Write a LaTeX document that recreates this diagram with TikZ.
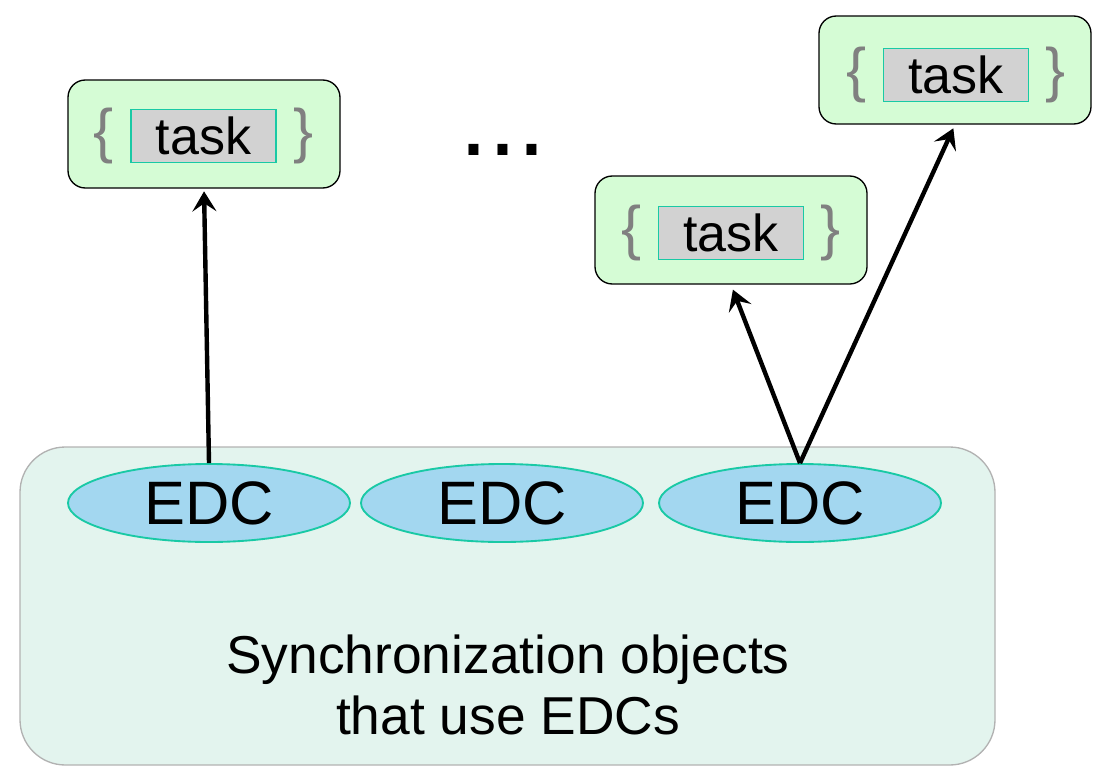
\documentclass[tikz,border=0pt]{standalone}
\usepackage{fontspec}
\setmainfont{Liberation Sans}
\usetikzlibrary{shapes,positioning,arrows.meta}
\definecolor{taskgreen}{HTML}{D5FCD5}
\definecolor{syncbg}{HTML}{E3F4EE}
\definecolor{edcblue}{HTML}{A3D7F0}
\definecolor{teal2}{HTML}{19C9A5}
\definecolor{bracegray}{HTML}{808080}

\begin{document}
\begin{tikzpicture}[x=0.75pt,y=-0.75pt,
		taskbox/.style={draw=black, line width=1pt, fill=taskgreen, rounded corners=13pt, minimum width=204pt, minimum height=81pt},
		taskname/.style={draw=teal2, line width=1.4pt, fill=gray!35, minimum width=108.75pt, minimum height=39.75pt, inner sep=0pt, font=\fontsize{39}{44}\selectfont},
		brace/.style={text=bracegray, inner sep=0pt, node distance=12pt, font=\fontsize{45}{48}\selectfont},
		edc/.style={draw=teal2, line width=1.4pt, fill=edcblue, ellipse, minimum width=211.5pt, minimum height=58.5pt, inner sep=0pt, font=\fontsize{46}{50}\selectfont},
		link/.style={->, line width=3.3pt},
		>={Stealth[length=15pt,width=18pt,inset=6pt]}]
	\useasboundingbox (0,0) rectangle (1096,771);

	% synchronization objects
	\node[draw=gray!60, line width=1pt, fill=syncbg, rounded corners=34pt, minimum width=731.25pt, minimum height=238.5pt] (sync) at (507.5,606) {};
	\node[align=center, font=\fontsize{40}{46}\selectfont] (synctext) at (508,685) {Synchronization objects\\that use EDCs};

	\node[edc] (e1) at (209,503) {EDC};
	\node[edc] (e2) at (502,503) {EDC};
	\node[edc] (e3) at (800,503) {EDC};

	% tasks
	\node[taskbox] (t1) at (204,134) {};
	\node[taskname] (n1) at (203.5,136) {task};
	\node[brace, left= of n1] (l1) {\{};
	\node[brace, right= of n1] (r1) {\}};

	\node[taskbox] (t2) at (731,230) {};
	\node[taskname] (n2) at (731,233) {task};
	\node[brace, left= of n2] (l2) {\{};
	\node[brace, right= of n2] (r2) {\}};

	\node[taskbox] (t3) at (955,70) {};
	\node[taskname] (n3) at (956,75) {task};
	\node[brace, left= of n3] (l3) {\{};
	\node[brace, right= of n3] (r3) {\}};

	\node[anchor=base, font=\fontsize{78}{80}\selectfont] (dots) at (503,155) {...};

	\draw[link, shorten >=2pt] (e1.north) -- (t1.south);
	\draw[link, shorten >=4pt] (e3.north) -- (t2.south);
	\draw[link, shorten >=3pt] (e3.north) -- (t3.south);
\end{tikzpicture}
\end{document}
